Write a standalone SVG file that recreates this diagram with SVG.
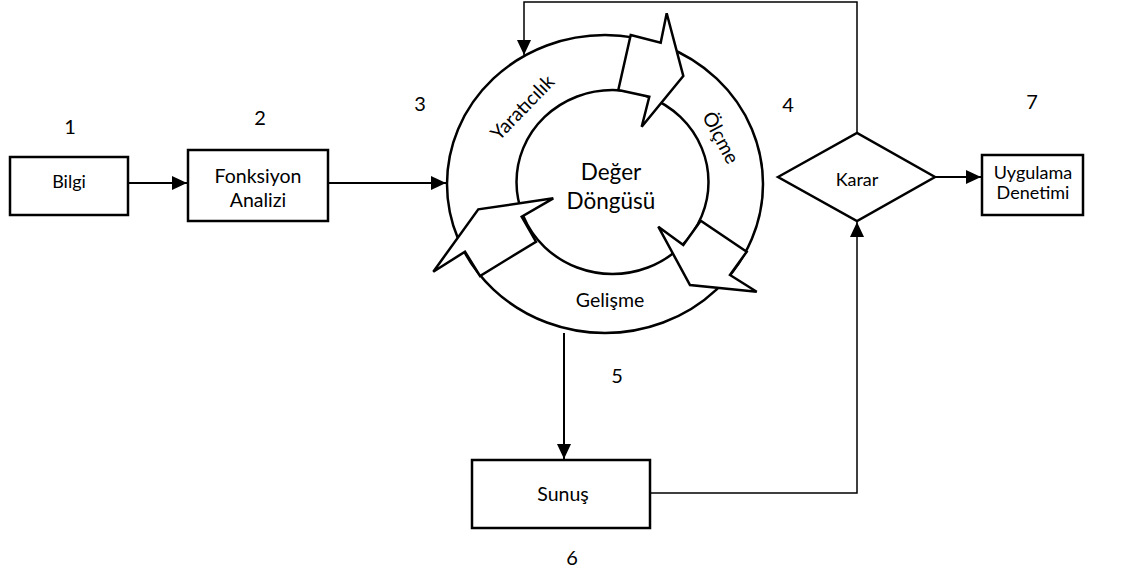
<svg xmlns="http://www.w3.org/2000/svg" width="1126" height="573" viewBox="0 0 1126 573">
<defs>
<style>
text{font-family:Lato,"Liberation Sans",sans-serif;fill:#000;text-anchor:middle}
.t{font-size:19.5px}
.s{font-size:18px}
.n{font-size:20px}
.c{font-size:22.5px}
.box{fill:#fff;stroke:#000;stroke-width:2.5}
.ring{fill:none;stroke:#000;stroke-width:2.5}
.blk{fill:#fff;stroke:#000;stroke-width:2.5;stroke-linejoin:miter}
.conn{fill:none;stroke:#000;stroke-width:2}
.thin{fill:none;stroke:#000;stroke-width:1.5}
</style>
<marker id="ah" viewBox="0 0 15 14" refX="15" refY="7" markerWidth="15" markerHeight="14" orient="auto" markerUnits="userSpaceOnUse">
<path d="M0,0 L15,7 L0,14 z" fill="#000"/>
</marker>
</defs>
<rect x="0" y="0" width="1126" height="573" fill="#fff"/>

<g id="labels">
<text class="n" x="70" y="134">1</text>
<text class="n" x="260" y="125">2</text>
<text class="n" x="420" y="111">3</text>
<text class="n" x="788" y="112">4</text>
<rect x="588" y="346" width="52" height="53" fill="#fff"/>
<text class="n" x="617" y="383">5</text>
<rect x="543" y="529" width="43" height="44" fill="#fff"/>
<text class="n" x="572" y="565">6</text>
<text class="n" x="1032" y="109">7</text>
</g>

<g id="connectors">
<path class="conn" d="M128,183 H187" marker-end="url(#ah)"/>
<path class="conn" d="M328,183 H446" marker-end="url(#ah)"/>
<path class="conn" d="M935,177 H981" marker-end="url(#ah)"/>
<path class="thin" d="M857,133 V2 H524 V55" marker-end="url(#ah)"/>
<path class="conn" d="M564,333 V459" marker-end="url(#ah)"/>
<path class="thin" d="M650,493 H857 V222" marker-end="url(#ah)"/>
</g>

<g id="bilgi">
<rect class="box" x="10" y="157" width="118" height="58"/>
<text class="s" x="69" y="188">Bilgi</text>
</g>

<g id="fonksiyon">
<rect class="box" x="188" y="150" width="140" height="71"/>
<text class="t" x="258" y="183">Fonksiyon</text>
<text class="t" x="258" y="207">Analizi</text>
</g>

<g id="deger-dongusu">
<ellipse class="ring" cx="605" cy="184" rx="158" ry="149"/>
<ellipse class="ring" cx="612.5" cy="182" rx="96" ry="92"/>
<path class="blk" d="M630.7,35 L660.7,42.7 L666.7,13.3 L683.3,76 L641.7,126.7 L649.3,96.7 L618.3,90 Z"/>
<path class="blk" d="M746.7,251.7 L700.7,220.7 L683.3,245 L658.3,226.7 L690,285 L756.7,291.7 L730,275 Z"/>
<path class="blk" d="M433.3,271.7 L478.3,209.3 L553.3,198.3 L521.7,216.7 L536,241.7 L480,276 L465,251.7 Z"/>
<text class="c" x="611" y="180">Değer</text>
<text class="c" x="611" y="209">Döngüsü</text>
<text class="t" transform="translate(523,108) rotate(-46)" y="6">Yaratıcılık</text>
<text class="t" transform="translate(720,138) rotate(62)" y="6">Ölçme</text>
<text class="t" x="610" y="307">Gelişme</text>
</g>

<g id="karar">
<polygon class="box" points="778,177 857,133 935,177 857,221"/>
<text class="s" x="857" y="186">Karar</text>
</g>

<g id="uygulama">
<rect class="box" x="982" y="155" width="101" height="60"/>
<text class="s" x="1033" y="179">Uygulama</text>
<text class="s" x="1033" y="199">Denetimi</text>
</g>

<g id="sunus">
<rect class="box" x="472" y="460" width="178" height="68"/>
<text class="t" x="563" y="501">Sunuş</text>
</g>
</svg>
